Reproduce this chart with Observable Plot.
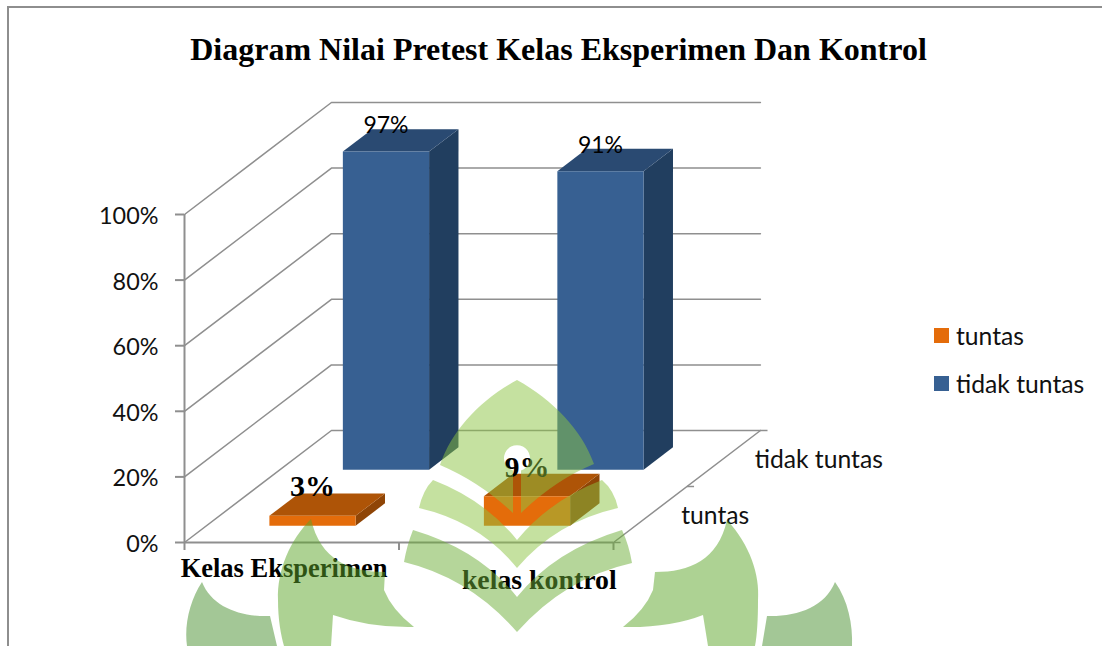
<!DOCTYPE html>
<html>
<head>
<meta charset="utf-8">
<script src="https://cdn.jsdelivr.net/npm/d3@7"></script>
<script src="https://cdn.jsdelivr.net/npm/@observablehq/plot@0.6"></script>
<style>
  html, body { margin: 0; padding: 0; background: #fff; width: 1102px; height: 646px; overflow: hidden; }
  #page { position: relative; width: 1102px; height: 646px; overflow: hidden; }
  #chart { position: absolute; left: 0; top: 0; }
  #frameTop { position: absolute; left: 7px; top: 6px; right: 0; height: 2px; background: #8e8e8e; }
  #frameLeft { position: absolute; left: 7px; top: 6px; bottom: 0; width: 2px; background: #8e8e8e; }
  #title { position: absolute; left: 0; width: 1117px; top: 31px; text-align: center; font: bold 32px "Liberation Serif", serif; color: #000; white-space: nowrap; }
  .leg { position: absolute; left: 934px; display: flex; align-items: center; font: 24.7px Lato, sans-serif; color: #111; height: 16px; white-space: nowrap; }
  .leg i { display: inline-block; width: 15px; height: 15px; margin-right: 7px; }
  #mark { position: absolute; left: 0; top: 0; pointer-events: none; }
</style>
</head>
<body>
<div id="page">
  <div id="frameTop"></div>
  <div id="frameLeft"></div>
  <div id="chart"></div>
  <div id="title"></div>
  <div id="legend"></div>
  <svg id="mark" width="1102" height="646" viewBox="0 0 1102 646">
    <g fill-opacity="0.5">
      <path fill="#8bc341" d="M517 380 C480 400 452 430 440 465 Q480 482 513 513 L513 470.5 A13 13 0 1 1 521 470.5 L521 513 Q555 480 594 464 C582 430 553 400 517 380 Z"/>
      <path fill="#8bc341" d="M433 480 Q423 490 419 508 Q480 522 517 568 Q556 522 618 508 Q614 490 602 480 Q550 500 517 540 Q485 500 433 480 Z"/>
      <path fill="#6bad35" d="M413 530 Q407 545 404 562 Q470 578 517 632 Q565 578 632 563 Q629 545 622 530 Q555 550 517 597 Q480 550 413 530 Z"/>
      <path fill="#5ba527" d="M311 519 C290 540 277 570 278 600 C278 620 281 635 284 646 L331 646 L333 615 Q370 628 414 627 Q392 610 384 590 L385 572 C350 572 320 560 311 519 Z"/>
      <path fill="#5ba527" d="M727 520 C750 545 760 575 758 600 C758 620 757 635 755 646 L708 646 L703 615 Q670 628 623 627 Q645 610 653 590 L655 572 C690 572 718 560 727 520 Z"/>
      <path fill="#478f2d" d="M202 582 C190 600 184 625 187 646 L277 646 L270 616 C240 617 212 607 202 582 Z"/>
      <path fill="#478f2d" d="M835 582 C848 600 853 625 852 646 L762 646 L767 616 C797 617 825 607 835 582 Z"/>
    </g>
  </svg>
</div>
<script>
// ---------- data ----------
const titleText = "Diagram Nilai Pretest Kelas Eksperimen Dan Kontrol";
const categories = ["Kelas Eksperimen", "kelas kontrol"];
const seriesNames = ["tuntas", "tidak tuntas"];
const tuntas = [3, 9];
const tidakTuntas = [97, 91];
const valueTicks = [0, 20, 40, 60, 80, 100];

// ---------- 3-D look: oblique projection of (category, depth, value) ----------
const depthX = 0.685;   // shift in category units for full depth
const depthY = 34.15;   // rise in value units for full depth
const barStart = 0.293, barWidth = 0.402;
const barDepthStart = 0.3, barDepth = 0.4;
const px = (c, d) => c + depthX * d;
const py = (v, d) => v + depthY * d;
const pt = (c, d, v) => ({x: px(c, d), y: py(v, d)});

const seriesStyle = {
  "tuntas":       {values: tuntas,      index: 0, front: "#e46c0a", top: "#ae5407", side: "#8f4506",
                   font: "Liberation Serif", weight: "bold", size: 30, lift: -29},
  "tidak tuntas": {values: tidakTuntas, index: 1, front: "#376092", top: "#2a4a72", side: "#213e5f",
                   font: "Lato", weight: "normal", size: 23, lift: -26}
};

const serif = "Liberation Serif", sans = "Lato";
const gridColor = "#8f8f8f";
const nCat = categories.length;

// walls: one bent line per value tick
const grid = valueTicks.flatMap(v => [
  {...pt(0, 0, v), v}, {...pt(0, 1, v), v}, {...pt(nCat, 1, v), v}
]);

const marks = [];
marks.push(Plot.line(grid, {x: "x", y: "y", z: "v", stroke: gridColor, strokeWidth: 1.5}));
// floor right edge
marks.push(Plot.line([pt(nCat, 0, 0), pt(nCat, 1, 0)], {x: "x", y: "y", stroke: gridColor, strokeWidth: 1.5}));
// depth axis ticks
marks.push(Plot.link([0, 0.5, 1], {
  x1: d => px(nCat, d), y1: d => py(0, d), x2: d => px(nCat, d) + 0.033, y2: d => py(0, d),
  stroke: gridColor, strokeWidth: 1.5
}));
// front axes
marks.push(Plot.ruleX([0], {y1: 0, y2: 100, stroke: gridColor, strokeWidth: 2}));
marks.push(Plot.ruleY([0], {x1: 0, x2: nCat, stroke: gridColor, strokeWidth: 2}));
marks.push(Plot.axisY({
  ticks: valueTicks, tickSize: 9, text: null,
  stroke: gridColor, strokeWidth: 2, strokeOpacity: 1, label: null
}));
marks.push(Plot.axisY({
  ticks: valueTicks, tickSize: 0, tickPadding: 26, tickFormat: d => d + "%", label: null,
  dy: 2, fontSize: 23.4, fontFamily: sans, fill: "#111"
}));
marks.push(Plot.axisX({
  ticks: d3.range(nCat + 1), tickSize: 8, tickFormat: () => "",
  stroke: gridColor, strokeWidth: 2, strokeOpacity: 1, label: null
}));

// bars, back row first
for (const name of [...seriesNames].reverse()) {
  const s = seriesStyle[name];
  const d0 = (s.index + barDepthStart) / seriesNames.length;
  const d1 = (s.index + barDepthStart + barDepth) / seriesNames.length;
  s.values.forEach((v, i) => {
    const c0 = i + barStart, c1 = c0 + barWidth;
    const side = [pt(c1, d0, 0), pt(c1, d1, 0), pt(c1, d1, v), pt(c1, d0, v)];
    const top = [pt(c0, d0, v), pt(c1, d0, v), pt(c1, d1, v), pt(c0, d1, v)];
    const front = [pt(c0, d0, 0), pt(c1, d0, 0), pt(c1, d0, v), pt(c0, d0, v)];
    marks.push(Plot.line(side,  {x: "x", y: "y", fill: s.side,  stroke: "none"}));
    marks.push(Plot.line(top,   {x: "x", y: "y", fill: s.top,   stroke: "none"}));
    marks.push(Plot.line(front, {x: "x", y: "y", fill: s.front, stroke: "none"}));
  });
}

// value labels
for (const name of seriesNames) {
  const s = seriesStyle[name];
  const d0 = (s.index + barDepthStart) / seriesNames.length;
  marks.push(Plot.text(s.values, {
    x: (v, i) => px(i + barStart + barWidth / 2, d0),
    y: v => py(v, d0),
    text: v => v + "%",
    dy: s.lift, fontFamily: s.font, fontWeight: s.weight, fontSize: s.size, fill: "#000",
    lineAnchor: "middle"
  }));
}

// category labels (moved text boxes in the original)
const catShift = [-7.7, 33], catDrop = [26, 38], catSize = [26.5, 27.8];
categories.forEach((c, i) => {
  marks.push(Plot.text([c], {
    x: () => i + 0.5, y: () => 0, text: d => d,
    dx: catShift[i], dy: catDrop[i],
    fontFamily: serif, fontWeight: "bold", fontSize: catSize[i], fill: "#000", lineAnchor: "middle"
  }));
});

// series names along the depth axis
marks.push(Plot.text(seriesNames, {
  x: (n, i) => px(nCat, (i + 0.5) / seriesNames.length),
  y: (n, i) => py(0, (i + 0.5) / seriesNames.length),
  text: n => n, dx: 31, dy: 2, textAnchor: "start", lineAnchor: "middle",
  fontFamily: sans, fontSize: 24.7, fill: "#111"
}));

const chart = Plot.plot({
  width: 1102, height: 646,
  marginLeft: 184, marginRight: 489, marginTop: 214, marginBottom: 104,
  x: {domain: [0, nCat], label: null},
  y: {domain: [0, 100], label: null},
  style: {background: "transparent", overflow: "visible"},
  marks
});
document.getElementById("chart").append(chart);
document.getElementById("title").textContent = titleText;

// legend
const legend = document.getElementById("legend");
seriesNames.forEach((n, i) => {
  const el = document.createElement("div");
  el.className = "leg";
  el.style.top = (327 + i * 48) + "px";
  el.innerHTML = `<i style="background:${seriesStyle[n].front}"></i>${n}`;
  legend.append(el);
});
</script>
</body>
</html>
